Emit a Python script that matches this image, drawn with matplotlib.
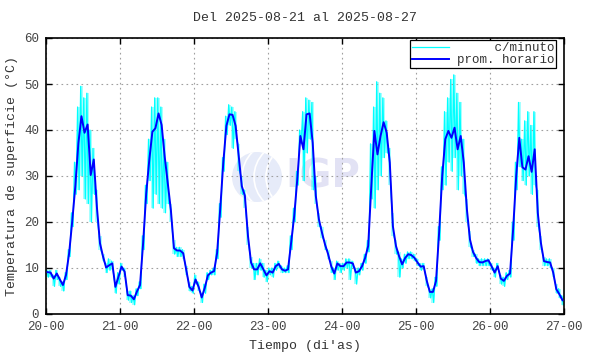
import numpy as np
import matplotlib
matplotlib.use('Agg')
import matplotlib.pyplot as plt
from matplotlib.patches import Ellipse

title = "Del 2025-08-21 al 2025-08-27"
xlabel = "Tiempo (di'as)"
ylabel = "Temperatura de superficie (°C)"
day_labels = ['20-00', '21-00', '22-00', '23-00', '24-00', '25-00', '26-00', '27-00']

# hourly averages (prom. horario), one list per day
prom_20 = [9.1, 9.0, 7.7, 8.8, 7.5, 6.3, 8.5, 13.2, 20.1, 27.7, 37.1, 43.0,
           39.4, 41.2, 30.2, 33.6, 23.3, 15.4, 12.5, 10.1, 10.6, 11.0, 5.9, 8.1]
prom_21 = [10.3, 9.2, 4.1, 4.0, 3.2, 4.9, 6.3, 15.4, 26.2, 33.5, 39.6, 40.4,
           43.6, 41.1, 34.2, 28.4, 22.6, 14.3, 13.8, 13.8, 13.2, 9.6, 5.9, 5.1]
prom_22 = [7.5, 5.9, 3.6, 5.7, 8.4, 9.0, 9.3, 13.3, 22.8, 32.9, 40.9, 43.4,
           43.3, 40.9, 34.3, 27.8, 25.7, 17.0, 11.2, 9.7, 9.7, 11.0, 9.7, 8.4]
prom_23 = [9.3, 9.0, 10.4, 10.9, 9.7, 9.4, 9.7, 15.5, 21.3, 29.3, 38.7, 35.8,
           43.4, 43.6, 37.2, 25.7, 20.6, 17.7, 15.1, 13.0, 10.4, 8.8, 11.0, 10.4]
prom_24 = [10.4, 11.2, 11.2, 11.0, 9.0, 9.3, 10.4, 12.2, 14.8, 27.8, 39.8, 34.7,
           38.7, 41.7, 39.4, 32.9, 19.1, 14.8, 12.6, 10.8, 12.2, 13.0, 12.8, 12.2]
prom_25 = [11.2, 10.3, 10.4, 7.2, 4.8, 4.8, 7.2, 17.7, 30.0, 38.0, 39.8, 38.3,
           40.5, 35.8, 38.7, 32.9, 22.8, 16.2, 13.5, 12.2, 11.3, 11.2, 11.5, 11.7]
prom_26 = [10.4, 9.0, 10.4, 7.7, 7.2, 8.3, 8.8, 18.4, 30.0, 38.3, 31.9, 31.4,
           34.3, 30.9, 35.8, 22.0, 15.5, 11.5, 11.3, 11.2, 9.0, 5.4, 4.3, 3.0]

# per-minute data summarized as hourly maximum / minimum
cmax_20 = [9.5, 9.5, 8.5, 9.5, 8.0, 7.0, 9.0, 14, 22, 33, 45, 49.5,
           47, 48, 40, 36, 27, 17, 13, 11, 12, 11.5, 7, 9]
cmin_20 = [8.0, 8.0, 6.0, 7.5, 6.0, 5.0, 7.5, 12.5, 19, 26, 27, 30,
           25, 24, 20, 26, 20, 14, 11.5, 9, 9.5, 9.5, 4.5, 6.5]
cmax_21 = [11, 10, 5, 5, 4, 5.5, 7, 17, 28, 38, 45, 47,
           47, 45, 38, 33, 24, 16, 14.5, 14.5, 14, 10.5, 7, 6]
cmin_21 = [9.5, 8, 3, 2.5, 2, 4, 5.5, 14, 24, 29, 23, 26,
           24, 23, 22, 24, 20, 13, 12.5, 12.5, 12, 8.5, 5, 4.5]
cmax_22 = [8.5, 7, 4.5, 6.5, 9, 9.5, 10, 14, 24, 34, 43, 45.5,
           45, 44, 37, 30, 27, 19, 12.5, 11, 11, 12, 11, 9.5]
cmin_22 = [6.5, 5, 2.5, 4.5, 7.5, 8.5, 8.5, 12, 21, 31, 39, 41,
           36, 38, 31, 26, 23, 15, 10, 7.5, 8.5, 9.5, 8, 7]
cmax_23 = [10, 10, 11, 11.5, 10.5, 10, 10.5, 17, 23, 31, 40, 44,
           47, 46.5, 46, 30, 22, 19, 16, 14, 11.5, 10, 11.5, 11]
cmin_23 = [8.5, 8, 9.5, 10, 9, 9, 9, 14, 20, 28, 37, 29,
           35, 38, 27, 24, 19, 16.5, 14, 12, 9, 7.5, 9.5, 9]
cmax_24 = [11, 12, 12, 11.5, 10, 10, 11, 13, 16, 37, 45, 50.5,
           48, 47, 42, 36, 22, 16, 13.5, 12, 13, 13.5, 13.5, 13]
cmin_24 = [9.5, 10, 7.5, 10, 6.5, 8.5, 9.5, 11, 13.5, 25, 23, 27,
           30, 34, 35, 28, 17, 13, 8, 10, 11, 12, 12, 11.5]
cmax_25 = [12, 11, 11, 8, 5.5, 5.5, 8, 19, 32, 44, 47, 51,
           52, 48, 46, 38, 25, 18, 14, 13, 12, 12, 12, 12]
cmin_25 = [10.5, 9.5, 9.5, 6, 3.5, 2.5, 6, 16, 27, 28, 33, 31,
           34, 27, 30, 26, 20, 14.5, 12.5, 11, 10.5, 10.5, 10.5, 10.5]
cmax_26 = [11, 10, 11, 8.5, 8, 9, 9.5, 20, 33, 46, 38, 42,
           44, 41, 44, 27, 17, 12.5, 12, 12, 10, 6.5, 5.5, 4]
cmin_26 = [9.5, 8, 9.5, 6.5, 6, 7.5, 8, 16, 27, 32, 29, 28,
           30, 26, 28, 19, 14, 10.5, 10.5, 10, 8, 4.5, 3.5, 2]

prom = np.concatenate([prom_20, prom_21, prom_22, prom_23, prom_24, prom_25, prom_26])
cmax = np.concatenate([cmax_20, cmax_21, cmax_22, cmax_23, cmax_24, cmax_25, cmax_26])
cmin = np.concatenate([cmin_20, cmin_21, cmin_22, cmin_23, cmin_24, cmin_25, cmin_26])

hours = np.arange(len(prom))
t_prom = hours + 0.5
t_c = np.column_stack([hours + 0.25, hours + 0.75]).ravel()
v_c = np.column_stack([cmax, cmin]).ravel()
t_env = np.column_stack([hours, hours + 1]).ravel()
hi_env = np.repeat(cmax, 2)
lo_env = np.repeat(cmin, 2)

plt.rcParams['font.family'] = ['Liberation Mono', 'DejaVu Sans Mono']
plt.rcParams['font.size'] = 9

fig = plt.figure(figsize=(5.9, 3.54), dpi=100)
ax = fig.add_axes([46/590, 1 - 314/354, (564 - 46)/590, (314 - 38)/354])
ax.set_zorder(2)
ax.set_facecolor('none')

# watermark (IGP logo imitation), drawn beneath the axes
logo = Ellipse((257/590, 1 - 177/354), 50/590, 50/354, transform=fig.transFigure,
               facecolor='#e6ebf9', edgecolor='none', zorder=0.5)
fig.patches.append(logo)
for dx in (-10, 2, 14):
    arc = Ellipse(((257 + dx + 30)/590, 1 - 177/354), 70/590, 70/354,
                  transform=fig.transFigure, facecolor='none',
                  edgecolor='white', lw=1.2, zorder=0.55)
    arc.set_clip_path(logo)
    fig.patches.append(arc)
fig.text(323/590, 1 - 177/354, 'IGP', ha='center', va='center', fontsize=28,
         fontweight='bold', color='#e2e2f4', family='DejaVu Sans', zorder=0.6)

ax.fill_between(t_env, lo_env, hi_env, color='#00ffff', alpha=0.35, lw=0, zorder=1.5)
ax.plot(t_c, v_c, color='#00ffff', lw=0.9, label='     c/minuto', zorder=2)
ax.plot(t_prom, prom, color='#0000ff', lw=1.4, label='prom. horario', zorder=3)

ax.set_xlim(0, 168)
ax.set_ylim(0, 60)
ax.set_xticks(np.arange(0, 169, 24))
ax.set_xticklabels(day_labels)
ax.set_yticks(np.arange(0, 61, 10))
ax.grid(True, color='#a0a0a0', linestyle=(0, (1.5, 3)), lw=0.8)
ax.tick_params(direction='in', length=4, width=1, top=True, right=True,
               colors='black', pad=5)
for tl in ax.get_xticklabels() + ax.get_yticklabels():
    tl.set_color('#444444')
for sp in ax.spines.values():
    sp.set_linewidth(1.2)

ax.set_title(title, color='#333333', fontsize=9.5, pad=12)
ax.set_xlabel(xlabel, color='#333333', fontsize=9.5, labelpad=5)
ax.set_ylabel(ylabel, color='#333333', fontsize=9.5, labelpad=4)

leg = ax.legend(loc='upper right', bbox_to_anchor=(556/590, 1 - 40/354),
                bbox_transform=fig.transFigure, frameon=True, fancybox=False,
                edgecolor='black', framealpha=1, borderaxespad=0, handlelength=3.0,
                handletextpad=0.6, borderpad=0.15, labelspacing=0.05, fontsize=9)
leg.get_frame().set_linewidth(0.9)
for txt in leg.get_texts():
    txt.set_color('#333333')

fig.savefig('out.png', dpi=100)
